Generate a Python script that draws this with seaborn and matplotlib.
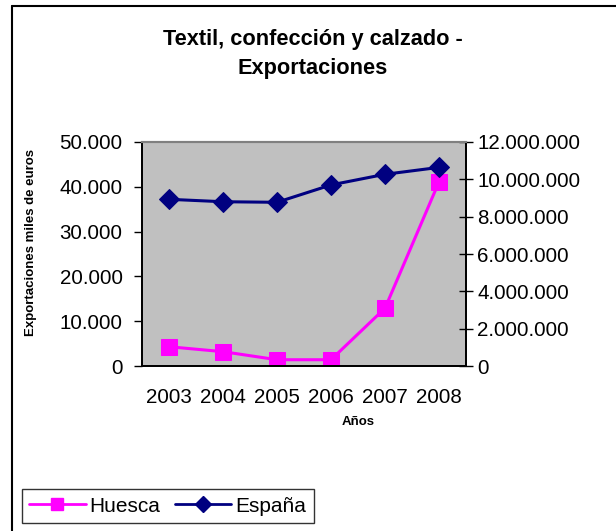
"""
Textil, confección y calzado - Exportaciones (Huesca vs España)
"""

import pandas as pd
import seaborn as sns
import matplotlib.pyplot as plt
from matplotlib.ticker import FuncFormatter, FixedLocator
from matplotlib.lines import Line2D

YEARS = ["2003", "2004", "2005", "2006", "2007", "2008"]
HUESCA = [4300, 3200, 1400, 1400, 12900, 41100]
ESPANA = [8930000, 8800000, 8770000, 9700000, 10270000, 10640000]

LEFT_TICKS = [0, 10000, 20000, 30000, 40000, 50000]
RIGHT_TICKS = [0, 2000000, 4000000, 6000000, 8000000, 10000000, 12000000]

MAGENTA = "#FF00FF"
NAVY = "#000080"


def thousands(value, _pos):
    return f"{int(round(value)):,}".replace(",", ".")


def build_chart() -> None:
    sns.set_style("white")
    plt.rcParams["font.family"] = ["Liberation Sans", "DejaVu Sans"]
    plt.rcParams["text.color"] = "black"
    plt.rcParams["xtick.color"] = "black"
    plt.rcParams["ytick.color"] = "black"

    df = pd.DataFrame({"Año": YEARS, "Huesca": HUESCA, "España": ESPANA})

    fig = plt.figure(figsize=(6.16, 5.31), dpi=100)
    ax = fig.add_axes([142 / 616, 1 - 366 / 531, 324 / 616, 224 / 531])
    ax2 = ax.twinx()

    # Huesca on the left axis
    sns.lineplot(data=df, x="Año", y="Huesca", ax=ax, color=MAGENTA,
                 linewidth=2.2, marker="s", markersize=11,
                 markeredgecolor=MAGENTA, sort=False)
    # España on the right axis
    sns.lineplot(data=df, x="Año", y="España", ax=ax2, color=NAVY,
                 linewidth=2.2, marker="D", markersize=10,
                 markeredgecolor=NAVY, sort=False)

    ax.set_facecolor("#C0C0C0")
    ax.set_xlim(-0.5, len(YEARS) - 0.5)
    ax.set_ylim(0, 50000)
    ax2.set_ylim(0, 12000000)

    ax.yaxis.set_major_locator(FixedLocator(LEFT_TICKS))
    ax2.yaxis.set_major_locator(FixedLocator(RIGHT_TICKS))
    ax.yaxis.set_major_formatter(FuncFormatter(thousands))
    ax2.yaxis.set_major_formatter(FuncFormatter(thousands))

    # category boundaries as tick marks, labels at the centres
    ax.set_xticks([i - 0.5 for i in range(len(YEARS) + 1)])
    ax.set_xticklabels([""] * (len(YEARS) + 1))
    ax.set_xticks(range(len(YEARS)), minor=True)
    ax.set_xticklabels(YEARS, minor=True)

    ax.tick_params(axis="x", which="major", direction="out", length=6,
                   width=1, color="black")
    ax.tick_params(axis="x", which="minor", length=0, pad=16,
                   labelsize=14.8, labelcolor="black")
    ax.tick_params(axis="y", direction="out", length=6, width=1,
                   color="black", pad=8, labelsize=14.8, left=True,
                   labelcolor="black")
    ax2.tick_params(axis="y", direction="inout", length=10, width=1,
                    color="black", pad=3, labelsize=14.8, right=True,
                    labelcolor="black")

    ax.set_xlabel("")
    ax.set_ylabel("")
    ax2.set_ylabel("")

    for spine_ax in (ax, ax2):
        for name in ("left", "bottom", "right"):
            spine_ax.spines[name].set_color("black")
            spine_ax.spines[name].set_linewidth(1.3)
        spine_ax.spines["top"].set_color("#808080")
        spine_ax.spines["top"].set_linewidth(1.5)

    fig.text(313 / 616, 1 - 54 / 531,
             "Textil, confección y calzado -\nExportaciones",
             ha="center", va="center", fontsize=15.7, fontweight="bold",
             linespacing=1.45, color="black")
    fig.text(31 / 616, 1 - 243 / 531, "Exportaciones miles de euros",
             rotation=90, ha="center", va="center", fontsize=9.5,
             fontweight="bold", color="black")
    fig.text(358 / 616, 1 - 422 / 531, "Años", ha="center", va="center",
             fontsize=9.5, fontweight="bold", color="black")

    handles = [
        Line2D([], [], color=MAGENTA, linewidth=2, marker="s", markersize=9),
        Line2D([], [], color=NAVY, linewidth=2, marker="D", markersize=8),
    ]
    for a in (ax, ax2):
        if a.get_legend() is not None:
            a.get_legend().remove()
    leg = fig.legend(handles, ["Huesca", "España"], loc="lower left",
                     bbox_to_anchor=(22 / 616, 1 - 523 / 531), ncol=2,
                     fontsize=15, frameon=True, fancybox=False,
                     handlelength=2.7, handletextpad=0.2, columnspacing=0.7,
                     borderpad=0.35, borderaxespad=0)
    leg.get_frame().set_edgecolor("black")
    leg.get_frame().set_linewidth(1)

    # chart area border (top and left edges visible)
    fig.add_artist(Line2D([12 / 616, 12 / 616], [0, 1 - 6 / 531],
                          transform=fig.transFigure, color="black",
                          linewidth=1.5))
    fig.add_artist(Line2D([12 / 616, 1], [1 - 6 / 531, 1 - 6 / 531],
                          transform=fig.transFigure, color="black",
                          linewidth=1.5))

    fig.savefig("out.png", dpi=100)


if __name__ == "__main__":
    build_chart()
